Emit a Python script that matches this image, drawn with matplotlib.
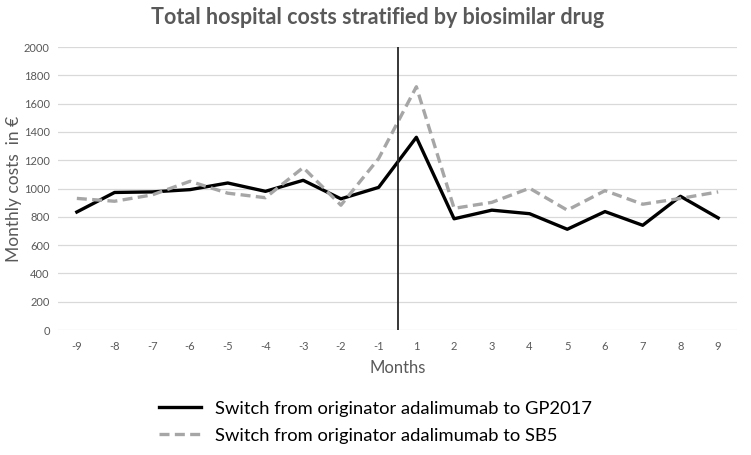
import matplotlib.pyplot as plt

months = ['-9', '-8', '-7', '-6', '-5', '-4', '-3', '-2', '-1',
          '1', '2', '3', '4', '5', '6', '7', '8', '9']
gp2017 = [834, 972, 976, 992, 1039, 980, 1058, 927, 1008,
          1362, 786, 847, 822, 712, 837, 740, 945, 792]
sb5 = [930, 910, 955, 1051, 967, 935, 1148, 882, 1212,
       1719, 860, 902, 1002, 847, 985, 889, 930, 976]
label_gp = 'Switch from originator adalimumab to GP2017'
label_sb = 'Switch from originator adalimumab to SB5'

plt.rcParams['font.family'] = ['Lato', 'DejaVu Sans']
grey_txt = '#595959'

fig = plt.figure(figsize=(7.51, 4.55), dpi=100)
ax = fig.add_axes([0.0772, 0.2747, 0.9042, 0.622])

x = list(range(len(months)))
ax.plot(x, gp2017, color='black', lw=2.4, label=label_gp, zorder=3)
ax.plot(x, sb5, color='#a6a6a6', lw=2.4, ls=(0, (3, 1.6)), label=label_sb, zorder=3)
# switch moment, between month -1 and 1
ax.axvline(8.5, color='#262626', lw=1.3, zorder=4)

ax.set_xlim(-0.5, len(months) - 0.5)
ax.set_ylim(0, 2000)
ax.set_yticks(range(0, 2001, 200))
ax.set_xticks(x)
ax.set_xticklabels(months)
ax.grid(axis='y', color='#d9d9d9', lw=0.9)
ax.set_axisbelow(True)
for s in ax.spines.values():
    s.set_visible(False)
ax.tick_params(length=0, labelsize=8, labelcolor=grey_txt, pad=8)
ax.tick_params(axis='y', pad=6)

ax.set_xlabel('Months', fontsize=12, color=grey_txt, labelpad=6)
ax.set_ylabel('Monthly costs  in \u20ac', fontsize=12.5, color=grey_txt)
ax.yaxis.set_label_coords(-0.053, 0.5)
fig.text(0.503, 0.962, 'Total hospital costs stratified by biosimilar drug',
         ha='center', va='center', fontsize=15.5, fontweight='bold', color=grey_txt)

fig.legend(loc='center', bbox_to_anchor=(0.5, 0.072),
           frameon=False, fontsize=13.2, handlelength=2.3, labelspacing=0.6)

plt.savefig('out.png', dpi=100)
